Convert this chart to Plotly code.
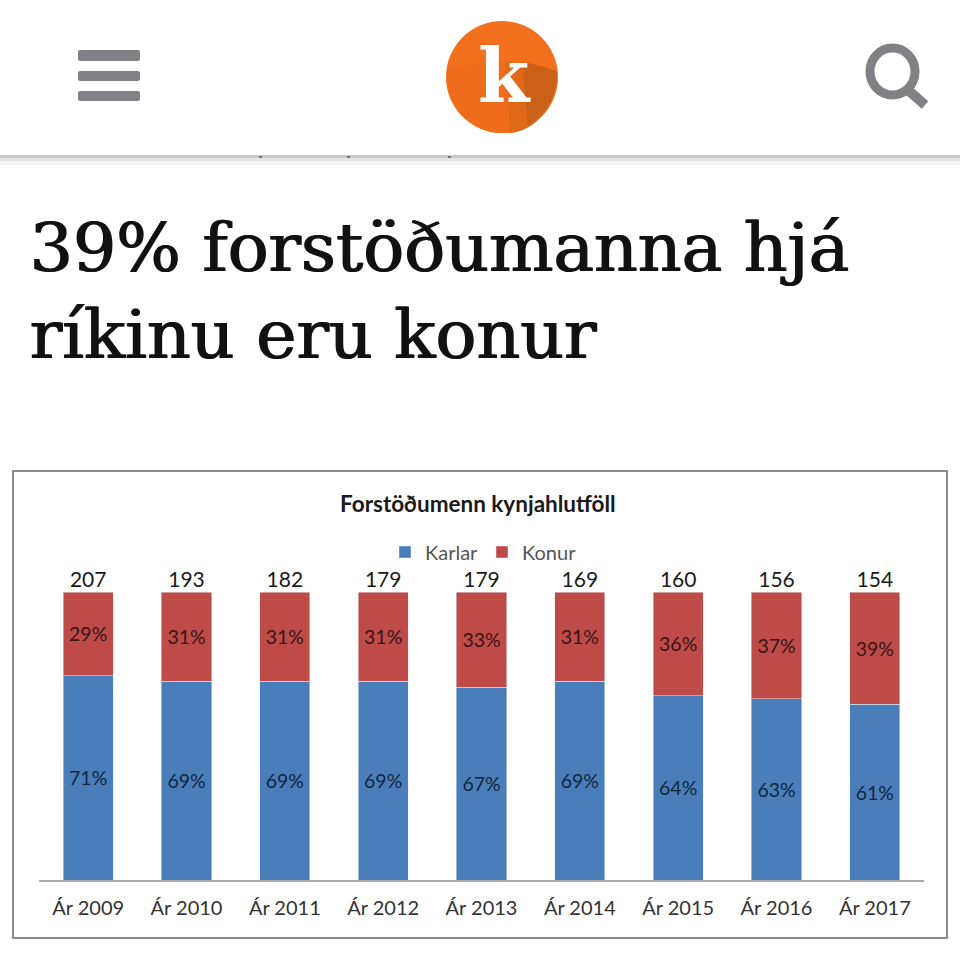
#!/usr/bin/env python3
"""Forstöðumenn kynjahlutföll - stacked bars in a news article screenshot"""
import plotly.graph_objects as go

YEARS = ["Ár 2009", "Ár 2010", "Ár 2011", "Ár 2012", "Ár 2013", "Ár 2014", "Ár 2015", "Ár 2016", "Ár 2017"]
KARLAR = [71, 69, 69, 69, 67, 69, 64, 63, 61]
KONUR = [29, 31, 31, 31, 33, 31, 36, 37, 39]
TOTALS = [207, 193, 182, 179, 179, 169, 160, 156, 154]
STACK_TOP = [k + w for k, w in zip(KARLAR, KONUR)]

SIZE = 960
BLUE = "#4A7EBB"
RED = "#BE4B48"
GREY = "#808085"
CHART_FONT = "Lato"


def px_x(x):
    return x / SIZE


def px_y(y):
    return 1 - y / SIZE


def rect(x0, y0, x1, y1, fill, line=None, width=0):
    return dict(type="rect", xref="paper", yref="paper",
                x0=px_x(x0), x1=px_x(x1), y0=px_y(y0), y1=px_y(y1),
                fillcolor=fill, line=dict(color=line or fill, width=width), layer="below")


def page_path(points, fill, opacity=1):
    # points: first is the move, then Q/C/L segments as (cmd, x, y, x, y, ...)
    parts = [f"M {px_x(points[0][0])} {px_y(points[0][1])}"]
    for seg in points[1:]:
        cmd, coords = seg[0], seg[1:]
        xy = " ".join(f"{px_x(coords[i])} {px_y(coords[i + 1])}" for i in range(0, len(coords), 2))
        parts.append(f"{cmd} {xy}")
    return dict(type="path", xref="paper", yref="paper", layer="below", line=dict(width=0),
                fillcolor=fill, opacity=opacity, path=" ".join(parts) + " Z")


def rounded_bar(x0, y0, x1, y1, fill, r=2):
    return page_path([(x0 + r, y0), ("L", x1 - r, y0), ("Q", x1, y0, x1, y0 + r), ("L", x1, y1 - r),
                      ("Q", x1, y1, x1 - r, y1), ("L", x0 + r, y1), ("Q", x0, y1, x0, y1 - r),
                      ("L", x0, y0 + r), ("Q", x0, y0, x0 + r, y0)], fill)


def page_text(x, y, text, size, font, color="#111111", anchor="left", bold=False, shadow=None):
    if bold:
        text = f"<b>{text}</b>"
    f = dict(size=size, family=font, color=color)
    if shadow:
        f["shadow"] = shadow
    return dict(xref="paper", yref="paper", x=px_x(x), y=px_y(y), text=text, showarrow=False,
                xanchor=anchor, yanchor="middle", font=f)


fig = go.Figure()
fig.add_trace(go.Bar(x=YEARS, y=KARLAR, name="Karlar", marker_color=BLUE,
                     texttemplate="%{y}%", textposition="inside", insidetextanchor="middle",
                     textangle=0, textfont=dict(color="#13263C", size=19.5, family=CHART_FONT)))
fig.add_trace(go.Bar(x=YEARS, y=KONUR, name="Konur", marker_color=RED,
                     texttemplate="%{y}%", textposition="inside", insidetextanchor="middle",
                     textangle=0, textfont=dict(color="#3A1518", size=19.5, family=CHART_FONT)))
# totals sit just above the stacks
fig.add_trace(go.Scatter(x=YEARS, y=STACK_TOP, text=TOTALS, mode="text", textposition="top center",
                         showlegend=False, hoverinfo="skip", cliponaxis=False,
                         textfont=dict(color="#1A1A1A", size=21, family=CHART_FONT)))

shapes = [
    # header bar shadow, with the clipped text tails poking out above it
    rect(0, 155, 960, 158, "#C9C9C9"),
    rect(0, 158, 960, 161, "#E4E4E4"),
    rect(0, 161, 960, 165, "#F5F5F5"),
    rect(259, 156, 262, 158, "#777777"),
    rect(347, 156, 350, 158, "#777777"),
    rect(448, 156, 451, 158, "#777777"),
    # hamburger
    rounded_bar(78, 50, 140, 61, GREY),
    rounded_bar(78, 71, 140, 81, GREY),
    rounded_bar(78, 91, 140, 101, GREY),
    # logo, layered to fake its gradient
    dict(type="circle", xref="paper", yref="paper", x0=px_x(446), x1=px_x(558), y0=px_y(133), y1=px_y(21),
         fillcolor="#F3711E", line=dict(width=0), layer="below"),
    page_path([(447, 70), ("Q", 500, 54, 557, 71), ("C", 558, 108, 533, 133, 502, 133),
               ("C", 471, 133, 446, 108, 447, 70)], "#EE6C1B"),
    page_path([(505, 62), ("Q", 535, 62, 557, 71), ("C", 558, 105, 535, 131, 510, 133)], "#E26819"),
    page_path([(522, 62), ("Q", 542, 65, 557, 72), ("C", 558, 95, 545, 115, 528, 126)], "#CB6018"),
    # magnifier
    dict(type="circle", xref="paper", yref="paper", x0=px_x(870), x1=px_x(915), y0=px_y(95), y1=px_y(48),
         fillcolor="rgba(0,0,0,0)", line=dict(color=GREY, width=9)),
    dict(type="line", xref="paper", yref="paper", x0=px_x(908), x1=px_x(925), y0=px_y(90), y1=px_y(105),
         line=dict(color=GREY, width=10)),
    # chart frame
    rect(13, 471, 947, 938, "#FFFFFF", "#8C8C8C", 2),
]

annotations = [
    page_text(504, 76, "k", 74, "DejaVu Serif", "#FFFFFF", "center", True),
    page_text(27, 247, "39% forstöðumanna hjá", 68, "DejaVu Serif", shadow="1.5px 0 0 #111111"),
    page_text(27, 335, "ríkinu eru konur", 68, "DejaVu Serif", shadow="1.5px 0 0 #111111"),
    page_text(478, 503, "Forstöðumenn kynjahlutföll", 22.5, CHART_FONT, "#1A1A1A", "center", True),
]

fig.update_layout(
    width=SIZE, height=SIZE,
    margin=dict(l=0, r=0, t=0, b=0),
    paper_bgcolor="#FFFFFF", plot_bgcolor="rgba(0,0,0,0)",
    barmode="stack", bargap=0.49,
    showlegend=True,
    legend=dict(orientation="h", x=px_x(482), y=px_y(552), xanchor="center", yanchor="middle",
                font=dict(size=20, family=CHART_FONT, color="#555555"), bgcolor="rgba(0,0,0,0)",
                itemwidth=30, entrywidth=52, entrywidthmode="pixels", traceorder="normal"),
    shapes=shapes, annotations=annotations,
    xaxis=dict(domain=[px_x(39), px_x(924)], tickfont=dict(size=20, family=CHART_FONT, color="#333333"),
               showline=True, linecolor="#ABABAB", linewidth=2, ticks="outside", ticklen=9,
               tickcolor="rgba(0,0,0,0)", showgrid=False),
    yaxis=dict(domain=[px_y(880), px_y(592)], range=[0, 100], visible=False, showgrid=False),
)

# the default page margin would shift everything by 8px
fig.write_html("out.html", post_script="document.body.style.margin='0';",
               config=dict(displayModeBar=False))
